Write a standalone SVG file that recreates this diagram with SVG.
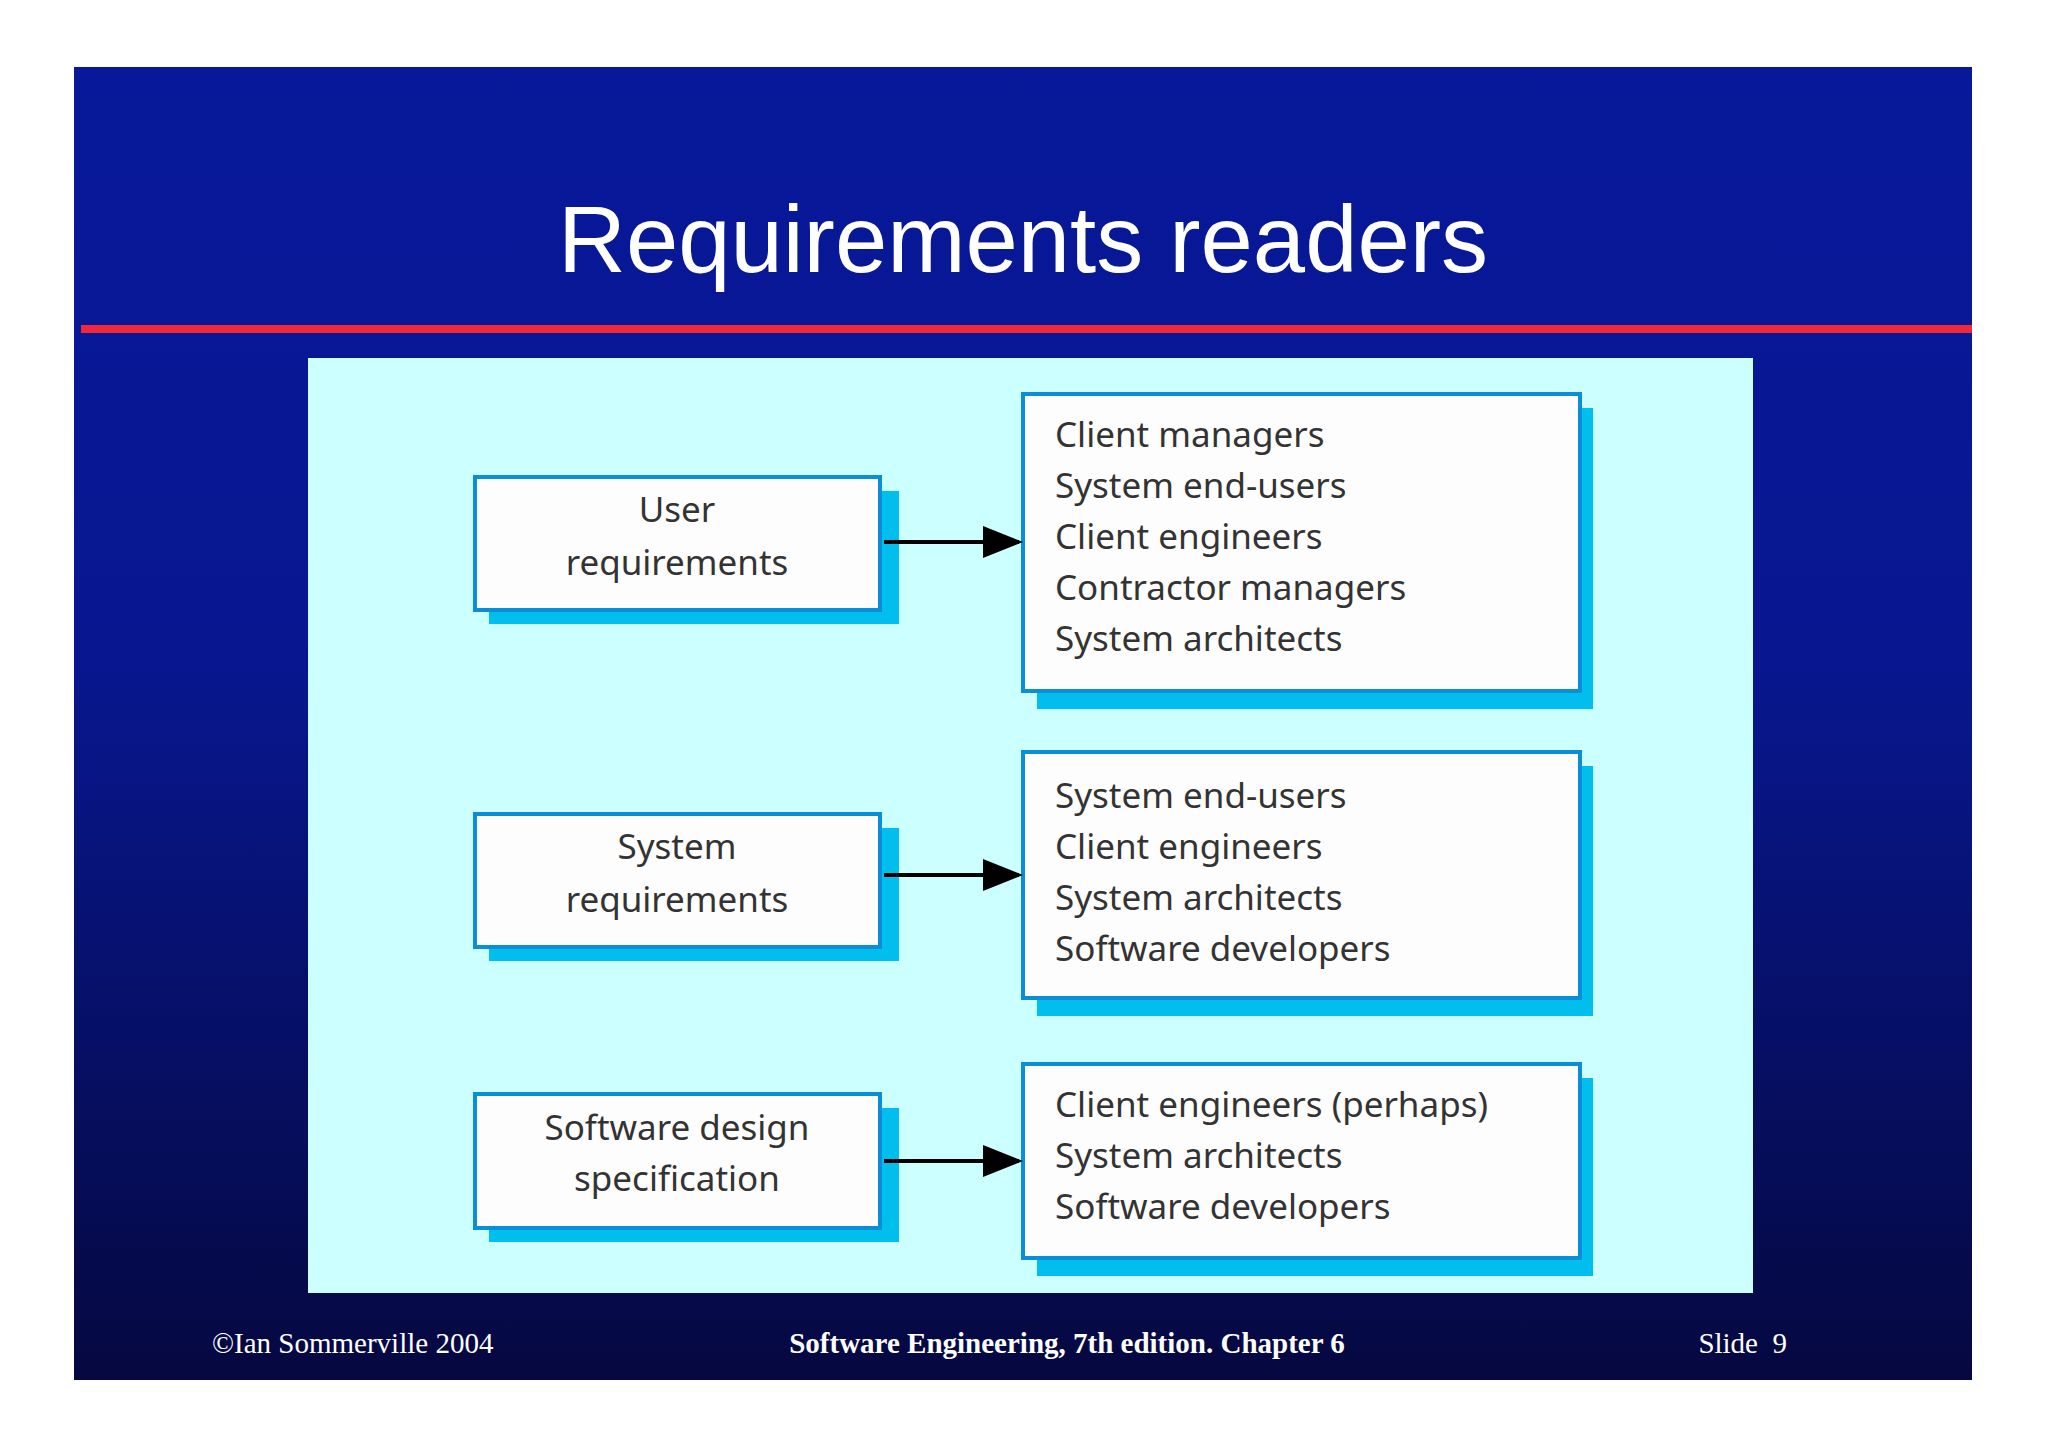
<svg xmlns="http://www.w3.org/2000/svg" width="2048" height="1447" viewBox="0 0 2048 1447">
<defs>
<linearGradient id="bg" x1="0" y1="0" x2="0" y2="1">
<stop offset="0" stop-color="#07189a"/><stop offset="0.45" stop-color="#081790"/><stop offset="1" stop-color="#050840"/>
</linearGradient>
<marker id="ah" markerWidth="10" markerHeight="8" refX="9" refY="4" orient="auto" markerUnits="strokeWidth">
<path d="M0,0 L10,4 L0,8 Z" fill="#000"/>
</marker>
<style>
.sh{fill:#00bfee}
.bx{fill:#fdfdfd;stroke:#0a8ed8;stroke-width:4}
.t{font-family:"Noto Sans","Open Sans",sans-serif;font-size:35px;fill:#333}
.c{text-anchor:middle}
.f{font-family:"Liberation Serif",serif;font-size:29px;fill:#fff}
.ln{stroke:#000;stroke-width:4;fill:none;marker-end:url(#ah)}
</style>
</defs>
<rect width="2048" height="1447" fill="#fff"/>
<rect x="74" y="67" width="1898" height="1313" fill="url(#bg)"/>
<text x="1023" y="272" text-anchor="middle" font-family="Liberation Sans,Arial,sans-serif" font-size="94" fill="#fff">Requirements readers</text>
<rect x="81" y="325" width="1891" height="8" fill="#f0283a"/>
<rect x="308" y="358" width="1445" height="935" fill="#ccffff"/>
<g id="user">
<rect class="sh" x="489" y="491" width="410" height="133"/><rect class="bx" x="475" y="477" width="405" height="133"/>
<text class="t c" x="677" y="522">User</text><text class="t c" x="677" y="575">requirements</text>
</g>
<g id="system">
<rect class="sh" x="489" y="828" width="410" height="133"/><rect class="bx" x="475" y="814" width="405" height="133"/>
<text class="t c" x="677" y="859">System</text><text class="t c" x="677" y="912">requirements</text>
</g>
<g id="design">
<rect class="sh" x="489" y="1108" width="410" height="134"/><rect class="bx" x="475" y="1094" width="405" height="134"/>
<text class="t c" x="677" y="1140">Software design</text><text class="t c" x="677" y="1191">specification</text>
</g>
<g id="readers1">
<rect class="sh" x="1037" y="408" width="556" height="301"/><rect class="bx" x="1023" y="394" width="557" height="297"/>
<text class="t" x="1055" y="447">Client managers</text><text class="t" x="1055" y="498">System end-users</text><text class="t" x="1055" y="549">Client engineers</text><text class="t" x="1055" y="600">Contractor managers</text><text class="t" x="1055" y="651">System architects</text>
</g>
<g id="readers2">
<rect class="sh" x="1037" y="766" width="556" height="250"/><rect class="bx" x="1023" y="752" width="557" height="246"/>
<text class="t" x="1055" y="808">System end-users</text><text class="t" x="1055" y="859">Client engineers</text><text class="t" x="1055" y="910">System architects</text><text class="t" x="1055" y="961">Software developers</text>
</g>
<g id="readers3">
<rect class="sh" x="1037" y="1078" width="556" height="198"/><rect class="bx" x="1023" y="1064" width="557" height="194"/>
<text class="t" x="1055" y="1117">Client engineers (perhaps)</text><text class="t" x="1055" y="1168">System architects</text><text class="t" x="1055" y="1219">Software developers</text>
</g>
<g id="connectors">
<line class="ln" x1="884" y1="542" x2="1019" y2="542"/>
<line class="ln" x1="884" y1="875" x2="1019" y2="875"/>
<line class="ln" x1="884" y1="1161" x2="1019" y2="1161"/>
</g>
<text class="f" x="212" y="1353">©Ian Sommerville 2004</text>
<text class="f" x="1067" y="1353" text-anchor="middle" font-weight="bold">Software Engineering, 7th edition. Chapter 6</text>
<text class="f" x="1787" y="1353" text-anchor="end" xml:space="preserve">Slide  9</text>
</svg>
